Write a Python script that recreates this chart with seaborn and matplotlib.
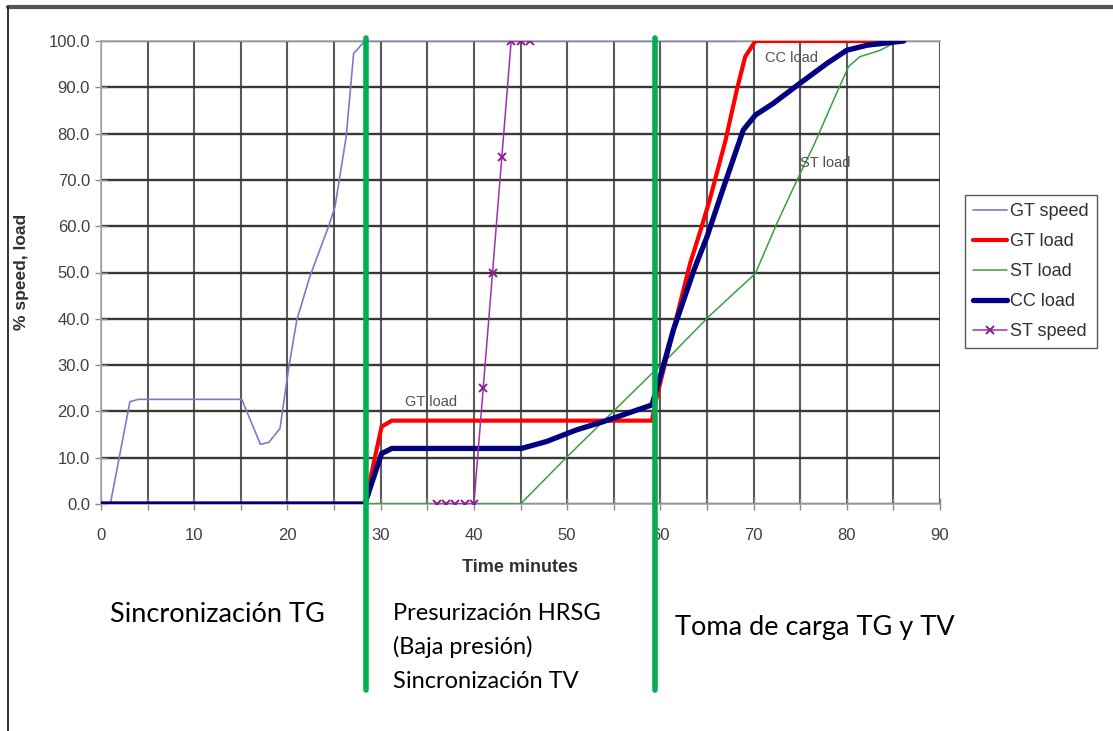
import matplotlib
matplotlib.use("Agg")
import matplotlib.pyplot as plt
from matplotlib.lines import Line2D
from matplotlib.ticker import MultipleLocator, FormatStrFormatter
import seaborn as sns
import pandas as pd

# ---------------- data ----------------
gt_speed_x = [0, 1, 3.1, 4, 15.1, 17.1, 18, 19.2, 20.1, 21, 22.4, 24.4, 25.1, 26.3, 27.1, 28.3, 68]
gt_speed_y = [0, 0, 22.1, 22.6, 22.6, 12.9, 13.3, 16.3, 28.9, 39.7, 49.1, 59.9, 64.2, 79.3, 97.3, 100, 100]

gt_load_x = [0, 28.3, 30.1, 31.2, 59.1, 59.6, 61.2, 63.2, 64.3, 65.3, 67, 68.2, 69.1, 70.2, 86]
gt_load_y = [0, 0, 16.7, 18, 18, 23, 36, 52, 59, 65.7, 78.6, 89.4, 96.6, 100, 100]

st_load_x = [28.4, 45, 50, 59.1, 60.3, 65.2, 70.2, 72.5, 75, 76.4, 78.9, 80.2, 81.4, 83.6, 85, 86]
st_load_y = [0, 0, 10.2, 28.2, 30.4, 40.5, 49.8, 60.6, 71.4, 77.2, 88.7, 94.5, 96.6, 98, 99.5, 100]

cc_load_x = [0, 28.3, 30.1, 31.2, 45.1, 47.8, 51, 53.9, 59.1, 60.3, 61.4, 63.6, 65, 66.8, 68.9,
             70.2, 72.1, 75, 77.9, 80, 82.2, 86.1]
cc_load_y = [0, 0, 10.9, 12, 12, 13.5, 16, 17.8, 21.4, 29.7, 37.6, 50.5, 57.7, 68.5, 80.8,
             84, 86.5, 90.9, 95.2, 98, 99.1, 100]

st_speed_x = [36, 37, 38, 39, 40, 41, 42, 43, 44, 45, 46]
st_speed_y = [0, 0, 0, 0, 0, 25, 50, 75, 100, 100, 100]

phase_bounds = [28.4, 59.4]

series_names = ["GT speed", "GT load", "ST load", "CC load", "ST speed"]
x_label = "Time minutes"
y_label = "% speed, load"

# ---------------- style ----------------
sns.set_theme(style="white")
plt.rcParams["font.family"] = ["Liberation Sans", "DejaVu Sans"]

fig = plt.figure(figsize=(11.13, 7.31), dpi=100)
ax = fig.add_axes([101 / 1113, 1 - 504 / 731, (940 - 101) / 1113, (504 - 41) / 731])

styles = {
    "GT speed": dict(color="#7B7BC8", lw=1.2),
    "GT load": dict(color="#FF0000", lw=3.0),
    "ST load": dict(color="#3CA03C", lw=1.1),
    "CC load": dict(color="#000080", lw=3.8),
    "ST speed": dict(color="#A030B0", lw=1.1, marker="x", markersize=5.5,
                     markeredgewidth=1.4, markeredgecolor="#8A2090", markerfacecolor="#8A2090"),
}
data = {
    "GT speed": (gt_speed_x, gt_speed_y),
    "GT load": (gt_load_x, gt_load_y),
    "ST load": (st_load_x, st_load_y),
    "CC load": (cc_load_x, cc_load_y),
    "ST speed": (st_speed_x, st_speed_y),
}

handles = []
for name in series_names:
    xs, ys = data[name]
    df = pd.DataFrame({"x": xs, "y": ys})
    sns.lineplot(data=df, x="x", y="y", ax=ax, estimator=None, sort=False,
                 label=name, zorder=3, **styles[name])
    handles.append(Line2D([], [], **styles[name]))

if ax.get_legend() is not None:
    ax.get_legend().remove()

# phase boundaries (extend below the axes)
for xb in phase_bounds:
    ax.axvline(xb, ymin=-0.402, ymax=1.006, color="#00B050", lw=4, clip_on=False, zorder=5)

ax.set_xlim(0, 90)
ax.set_ylim(0, 100)
ax.xaxis.set_major_locator(MultipleLocator(10))
ax.xaxis.set_minor_locator(MultipleLocator(5))
ax.yaxis.set_major_locator(MultipleLocator(10))
ax.yaxis.set_major_formatter(FormatStrFormatter("%.1f"))

ax.grid(False)
ax.xaxis.grid(True, which="both", color="#5a5a5a", lw=1.5, zorder=0)
ax.yaxis.grid(True, which="major", color="#383838", lw=1.7, zorder=0)
ax.set_axisbelow(True)
glines = ax.yaxis.get_gridlines()
glines[-1].set_color("#c8c8c8")
glines[-1].set_linewidth(1.2)

for s in ["left", "bottom", "top"]:
    ax.spines[s].set_color("#a8a8a8")
    ax.spines[s].set_linewidth(1.2)
ax.spines["right"].set_visible(False)

ax.tick_params(axis="both", which="both", direction="inout", length=8, width=1.0,
               color="#8a8a8a", labelsize=12, labelcolor="#404040")
ax.tick_params(axis="x", which="both", bottom=True, pad=13)
ax.tick_params(axis="y", left=True, pad=4)

ax.set_xlabel(x_label, fontsize=13, fontweight="bold", color="#303030")
ax.xaxis.set_label_coords(0.5, -(567 - 504) / 463, transform=ax.transAxes)
ax.xaxis.label.set_va("center")
ax.set_ylabel(y_label, fontsize=12.5, fontweight="bold", color="#303030")
ax.yaxis.set_label_coords(-(101 - 22) / 839, (504 - 272) / 463, transform=ax.transAxes)
ax.yaxis.label.set_va("center")

# annotations inside plot
ax.text(32.6, 22, "GT load", fontsize=10.5, color="#505050", va="center", ha="left")
ax.text(71.2, 96.3, "CC load", fontsize=10.5, color="#505050", va="center", ha="left")
ax.text(75.0, 73.6, "ST load", fontsize=10.5, color="#505050", va="center", ha="left")

# legend
leg = fig.legend(handles=handles, labels=series_names, loc="upper left",
                 bbox_to_anchor=(965 / 1113, 1 - 195 / 731), fontsize=13,
                 frameon=True, fancybox=False, edgecolor="#303030",
                 handlelength=1.9, handletextpad=0.15, labelspacing=0.72,
                 borderpad=0.45, borderaxespad=0)
leg.get_frame().set_linewidth(1.0)
for t in leg.get_texts():
    t.set_color("#303030")

# phase description texts
phase_font = ["Lato", "DejaVu Sans"]
fig.text(110 / 1113, 1 - 615 / 731, "Sincronización TG", fontsize=19.5, family=phase_font,
         va="center", ha="left", color="black")
fig.text(393 / 1113, 1 - 613 / 731, "Presurización HRSG", fontsize=17, family=phase_font,
         va="center", ha="left", color="black")
fig.text(393 / 1113, 1 - 647 / 731, "(Baja presión)", fontsize=17, family=phase_font,
         va="center", ha="left", color="black")
fig.text(393 / 1113, 1 - 682 / 731, "Sincronización TV", fontsize=17, family=phase_font,
         va="center", ha="left", color="black")
fig.text(675 / 1113, 1 - 627 / 731, "Toma de carga TG y TV", fontsize=19.5, family=phase_font,
         va="center", ha="left", color="black")

# outer frame (top and left)
fig.add_artist(Line2D([8 / 1113, 1], [1 - 7 / 731, 1 - 7 / 731], transform=fig.transFigure,
                      color="#555555", lw=3))
fig.add_artist(Line2D([8 / 1113, 8 / 1113], [0, 1 - 7 / 731], transform=fig.transFigure,
                      color="#222222", lw=1.3))

fig.savefig("out.png", dpi=100)
